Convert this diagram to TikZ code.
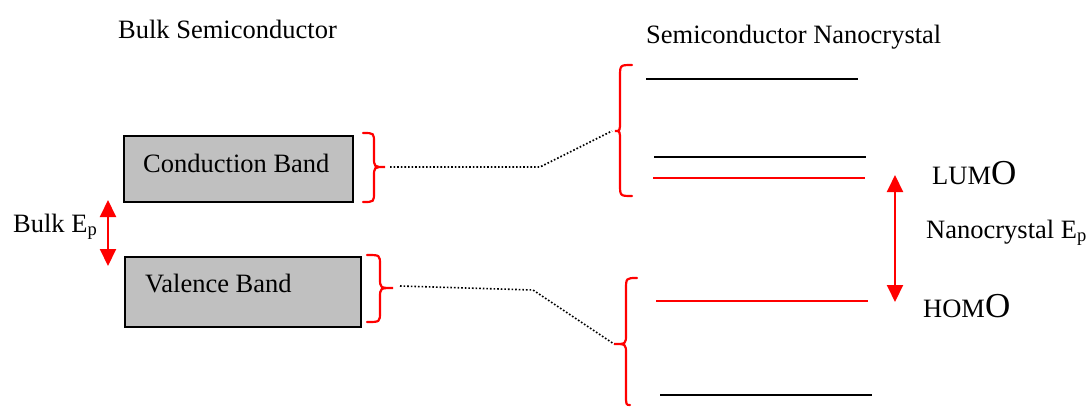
\documentclass[tikz,border=0pt]{standalone}
\usepackage{fontspec}
\setmainfont{Liberation Serif}
\usetikzlibrary{arrows.meta}
\definecolor{boxgray}{RGB}{192,192,192}
\definecolor{bred}{RGB}{255,0,0}
\tikzset{
  lbl/.style={anchor=base west, inner sep=0pt, font=\fontsize{26.5}{30}\selectfont},
  bandbox/.style={draw=black, line width=1.6pt, fill=boxgray},
  level/.style={line width=2pt, black},
  redlevel/.style={line width=2pt, bred},
  bracestyle/.style={line width=2.2pt, bred, line cap=round},
  gaparrow/.style={line width=2pt, bred, {Triangle[width=16pt,length=17pt]}-{Triangle[width=16pt,length=17pt]}},
  dotline/.style={line width=1.6pt, dotted, black},
}
\newcommand{\bigO}{{\fontsize{35}{35}\selectfont O}}
\begin{document}
\begin{tikzpicture}[x=1pt,y=-1pt]
\useasboundingbox (0,0) rectangle (1089,407);
% titles
\node[lbl] (tbulk) at (118,38) {Bulk Semiconductor};
\node[lbl] (tnano) at (646,43) {Semiconductor Nanocrystal};
% bulk boxes
\node[bandbox, minimum width=229pt, minimum height=66pt, anchor=north west, inner sep=0pt] (cb) at (123,135) {};
\node[lbl] (cbt) at (143,172) {Conduction Band};
\node[bandbox, minimum width=236pt, minimum height=70pt, anchor=north west, inner sep=0pt] (vb) at (124,256) {};
\node[lbl] (vbt) at (145,292) {Valence Band};
% bulk gap
\coordinate (bgT) at (108,200);
\coordinate (bgB) at (108,266);
\draw[gaparrow] (bgT) -- (bgB);
\node[lbl] (bulkep) at (13,232) {Bulk E\textsubscript{p}};
% bulk braces
\coordinate (cbtip) at (385,167);
\draw[bracestyle] (363,133) .. controls (374,133) .. (374,143) -- (374,157) .. controls (374,167) .. (cbtip)
  .. controls (374,167) .. (374,177) -- (374,192) .. controls (374,202) .. (363,202);
\coordinate (vbtip) at (393,288);
\draw[bracestyle] (367,255) .. controls (380,255) .. (380,265) -- (380,278) .. controls (380,288) .. (vbtip)
  .. controls (380,288) .. (380,298) -- (380,312) .. controls (380,322) .. (367,322);
% nano braces
\coordinate (uptip) at (615,131);
\draw[bracestyle] (632,65) .. controls (620,65) .. (620,77) -- (620,121) .. controls (620,131) .. (uptip)
  .. controls (620,131) .. (620,141) -- (620,184) .. controls (620,196) .. (632,196);
\coordinate (lotip) at (614,344);
\draw[bracestyle] (637,278) .. controls (626,278) .. (626,290) -- (626,334) .. controls (626,344) .. (lotip)
  .. controls (626,344) .. (626,354) -- (626,394) .. controls (626,405) .. (630,405);
% dotted connectors
\coordinate (cbmid) at (540,167);
\coordinate (vbmid) at (533,290);
\draw[dotline] ([xshift=5pt]cbtip) -- (cbmid) -- ([xshift=-3pt]uptip);
\draw[dotline] ([xshift=7pt,yshift=2pt]vbtip) -- (vbmid) -- (lotip);
% nanocrystal levels
\coordinate (l1a) at (646,79);  \coordinate (l1b) at (858,79);
\coordinate (l2a) at (654,157); \coordinate (l2b) at (866,157);
\coordinate (l3a) at (653,178); \coordinate (l3b) at (865,178);
\coordinate (l4a) at (656,301); \coordinate (l4b) at (868,301);
\coordinate (l5a) at (660,395); \coordinate (l5b) at (872,395);
\draw[level] (l1a) -- (l1b);
\draw[level] (l2a) -- (l2b);
\draw[redlevel] (l3a) -- (l3b);
\draw[redlevel] (l4a) -- (l4b);
\draw[level] (l5a) -- (l5b);
% nano gap
\coordinate (ngT) at (895,175);
\coordinate (ngB) at (895,302);
\draw[gaparrow] (ngT) -- (ngB);
\node[lbl] (lumo) at (932,184) {LUM\bigO};
\node[lbl] (homo) at (923,317) {HOM\bigO};
\node[lbl] (nanoep) at (926,238) {Nanocrystal E\textsubscript{p}};
\end{tikzpicture}
\end{document}
